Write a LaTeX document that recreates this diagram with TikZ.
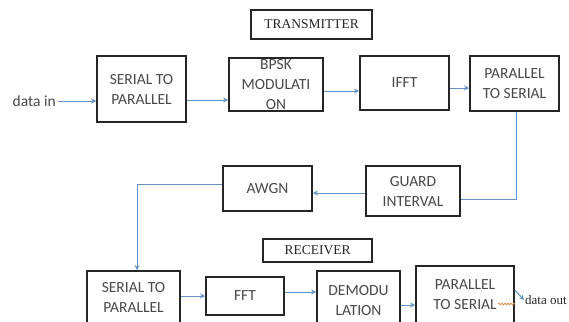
\documentclass[tikz,border=0pt]{standalone}
\usepackage{fontspec}
\setmainfont{Carlito}
\newfontfamily\serifface{Liberation Serif}
\usetikzlibrary{arrows.meta,decorations.pathmorphing}
\definecolor{boxtext}{RGB}{72,72,72}
\definecolor{boxline}{RGB}{38,38,38}
\definecolor{arrowblue}{RGB}{96,146,198}
\definecolor{squig}{RGB}{225,140,70}
\tikzset{
  blockbox/.style={draw=boxline, line width=1.8pt, inner sep=0pt, align=center,
    text=boxtext, font=\fontsize{15.5}{20}\selectfont},
  titlebox/.style={draw=boxline, line width=1.8pt, inner sep=0pt,
    text=boxline, font=\serifface\fontsize{13.5}{16}\selectfont},
  link/.style={draw=arrowblue, line width=1pt},
  linkarrow/.style={link, -{Stealth[length=5pt,width=5pt]}}
}
\begin{document}
\begin{tikzpicture}[x=1pt,y=-1pt]
\useasboundingbox (0,0) rectangle (569,321);
\clip (0,0) rectangle (569,321);
\fill[white] (0,0) rectangle (569,321);
% titles
\node[titlebox, minimum width=121pt, minimum height=29pt] (tx) at (311.5,24.5) {TRANSMITTER};
\node[titlebox, minimum width=109pt, minimum height=23pt] (rx) at (317.5,250.5) {RECEIVER};
% transmitter row
\node[blockbox, minimum width=89pt, minimum height=66pt] (sp1) at (141.5,89) {SERIAL TO\\PARALLEL};
\node[blockbox, minimum width=94pt, minimum height=53pt] (bpsk) at (276,84.5) {BPSK\\MODULATI\\ON};
\node[blockbox, minimum width=89pt, minimum height=54pt] (ifft) at (404.5,83) {IFFT};
\node[blockbox, minimum width=89pt, minimum height=55pt] (ps1) at (514.5,83.5) {PARALLEL\\TO SERIAL};
% channel
\node[blockbox, minimum width=94pt, minimum height=50pt] (guard) at (413,191) {GUARD\\INTERVAL};
\node[blockbox, minimum width=89pt, minimum height=45pt] (awgn) at (267.5,188.5) {AWGN};
% receiver row
\node[blockbox, minimum width=93pt, minimum height=52pt] (sp2) at (133.5,297) {SERIAL TO\\PARALLEL};
\node[blockbox, minimum width=78pt, minimum height=38pt] (fft) at (245,296) {FFT};
\node[blockbox, minimum width=83pt, minimum height=60pt] (demod) at (358.5,301) {DEMODU\\LATION};
\node[blockbox, minimum width=98pt, minimum height=58pt] (ps2) at (465,295) {PARALLEL\\TO SERIAL};
% io labels
\node[anchor=east, inner sep=2pt, text=boxtext, font=\fontsize{15.5}{18}\selectfont] (din) at (58,101) {data in};
\node[anchor=west, inner sep=1pt, text=boxline, font=\serifface\fontsize{13}{15}\selectfont] (dout) at (524,300) {data out};
% connectors
\draw[linkarrow] (din.east) -- (din.east -| sp1.west);
\draw[linkarrow] ([yshift=-11pt]sp1.east) -- ([yshift=-11pt]sp1.east -| bpsk.west);
\draw[linkarrow] ([yshift=-6.5pt]bpsk.east) -- ([yshift=-6.5pt]bpsk.east -| ifft.west);
\draw[linkarrow] ([yshift=-5pt]ifft.east) -- ([yshift=-5pt]ifft.east -| ps1.west);
\draw[link] ([xshift=1.5pt]ps1.south) |- ([yshift=-8pt]guard.east);
\draw[linkarrow] ([yshift=-2pt]guard.west) -- ([yshift=-2pt]guard.west -| awgn.east);
\draw[linkarrow] ([yshift=4.5pt]awgn.west) -| ([xshift=3.5pt]sp2.north);
\draw[linkarrow] ([yshift=1pt]sp2.east) -- ([yshift=1pt]sp2.east -| fft.west);
\draw[linkarrow] ([yshift=4pt]fft.east) -- ([yshift=4pt]fft.east -| demod.west);
\draw[linkarrow] ([yshift=-4pt]demod.east) -- ([yshift=-4pt]demod.east -| ps2.west);
\draw[squig, line width=0.8pt, decorate, decoration={snake, amplitude=0.8pt, segment length=3pt}] (498,304) -- (515,304);
\draw[linkarrow] ([yshift=5pt]ps2.east) -- (dout.west);
\end{tikzpicture}
\end{document}
